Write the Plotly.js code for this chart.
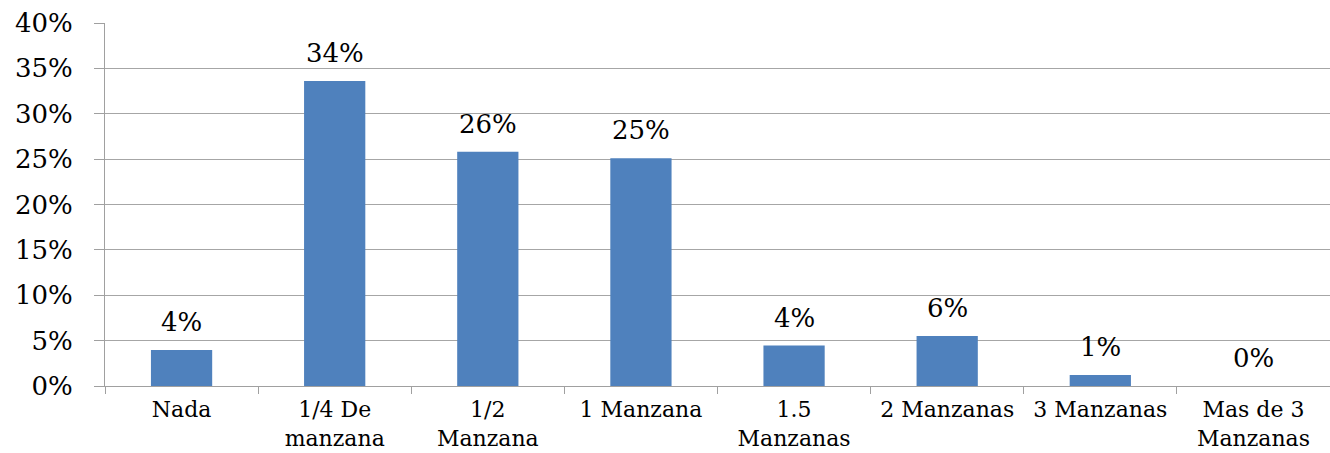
<!DOCTYPE html>
<html>
<head>
<meta charset="utf-8">
<script src="https://cdn.plot.ly/plotly-3.0.1.min.js"></script>
<style>html,body{margin:0;padding:0;background:#fff;}#chart{width:1330px;height:453px;}</style>
</head>
<body>
<div id="chart"></div>
<script>
var categories = ["Nada", "1/4 De<br>manzana", "1/2<br>Manzana", "1 Manzana", "1.5<br>Manzanas", "2 Manzanas", "3 Manzanas", "Mas de 3<br>Manzanas"];
var values = [3.97, 33.6, 25.8, 25.1, 4.45, 5.5, 1.2, 0];
var valueLabels = ["4%", "34%", "26%", "25%", "4%", "6%", "1%", "0%"];
var yTickValues = [0, 5, 10, 15, 20, 25, 30, 35, 40];
var yTickLabels = ["0%", "5%", "10%", "15%", "20%", "25%", "30%", "35%", "40%"];

var fontFamily = "DejaVu Serif, Liberation Serif, serif";

var trace = {
  type: "bar",
  x: categories,
  y: values,
  width: 0.4,
  marker: {color: "#4F81BD", line: {width: 0}},
  hoverinfo: "none"
};

var annotations = categories.map(function (c, i) {
  return {
    x: c, y: values[i], xref: "x", yref: "y",
    text: valueLabels[i], showarrow: false,
    yanchor: "bottom", yshift: 11,
    font: {family: fontFamily, size: 26, color: "#000"}
  };
});

var layout = {
  width: 1330, height: 453,
  margin: {l: 105, r: 0, t: 23, b: 67},
  paper_bgcolor: "#fff", plot_bgcolor: "#fff",
  showlegend: false,
  font: {family: fontFamily, color: "#000"},
  xaxis: {
    type: "category",
    showgrid: false,
    showline: true, linecolor: "#A0A0A0", linewidth: 1,
    ticks: "outside", tickson: "boundaries", ticklen: 7, tickcolor: "#A0A0A0",
    ticklabelstandoff: 4,
    tickfont: {family: fontFamily, size: 22, color: "#000"},
    fixedrange: true
  },
  yaxis: {
    range: [0, 40],
    tickvals: yTickValues, ticktext: yTickLabels,
    showgrid: true, gridcolor: "#A6A6A6", gridwidth: 1,
    showline: true, linecolor: "#A0A0A0", linewidth: 1,
    ticks: "outside", ticklen: 10, tickcolor: "#A0A0A0",
    ticklabelstandoff: 16,
    tickfont: {family: fontFamily, size: 26, color: "#000"},
    zeroline: false, fixedrange: true
  },
  annotations: annotations
};

Plotly.newPlot("chart", [trace], layout, {staticPlot: true, displayModeBar: false});
</script>
</body>
</html>
